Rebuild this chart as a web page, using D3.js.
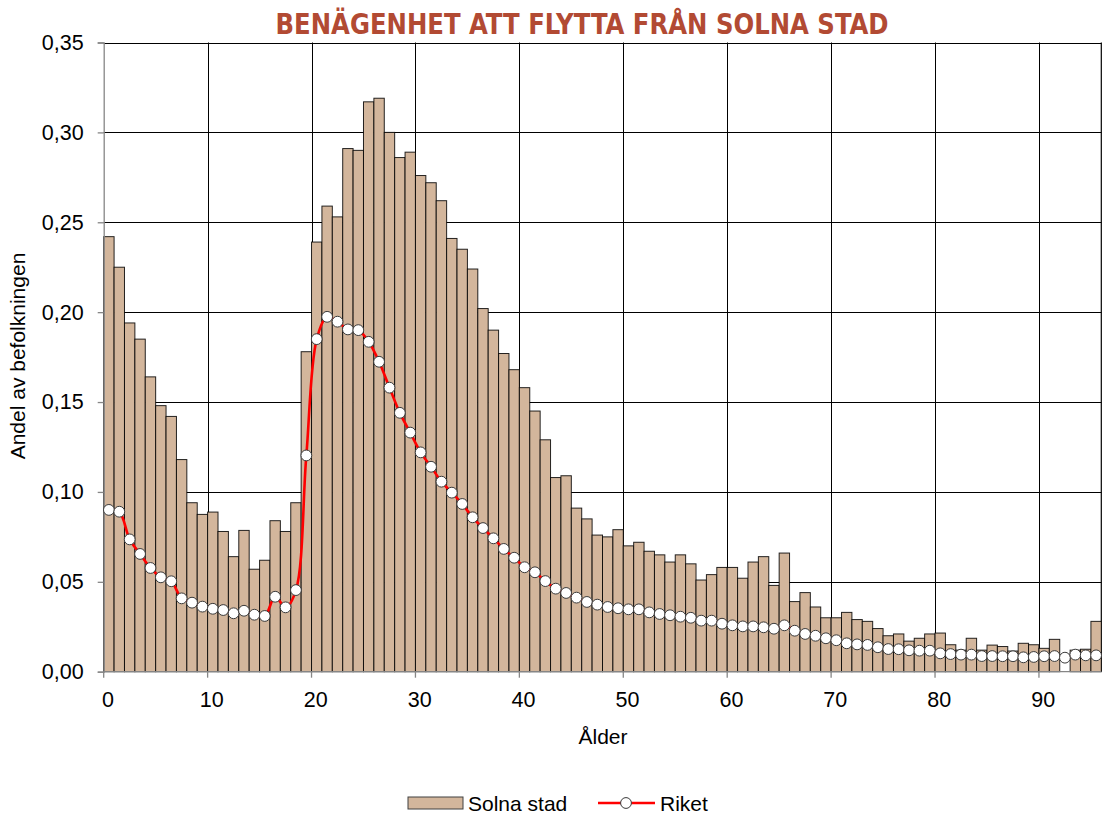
<!DOCTYPE html>
<html>
<head>
<meta charset="utf-8">
<script src="https://cdn.jsdelivr.net/npm/d3@7"></script>
<style>
  body { margin: 0; background: #fff; }
  svg { display: block; }
</style>
</head>
<body>
<svg id="chart" width="1105" height="816"></svg>
<script>
const title = "BENÄGENHET ATT FLYTTA FRÅN SOLNA STAD";
const yTitle = "Andel av befolkningen";
const xTitle = "Ålder";
const seriesNames = ["Solna stad", "Riket"];

const ages = d3.range(0, 96);

const solna = [
  0.242, 0.225, 0.194, 0.185, 0.164, 0.148, 0.142, 0.118, 0.094, 0.0875,
  0.0888, 0.078, 0.064, 0.0786, 0.057, 0.062, 0.084, 0.078, 0.094, 0.178,
  0.239, 0.259, 0.253, 0.291, 0.290, 0.317, 0.319, 0.300, 0.286, 0.289,
  0.276, 0.272, 0.262, 0.241, 0.235, 0.224, 0.202, 0.190, 0.177, 0.168,
  0.158, 0.145, 0.129, 0.108, 0.109, 0.091, 0.085, 0.076, 0.075, 0.079,
  0.070, 0.072, 0.067, 0.065, 0.061, 0.065, 0.060, 0.051, 0.054, 0.058,
  0.058, 0.052, 0.061, 0.064, 0.048, 0.066, 0.039, 0.044, 0.036, 0.030,
  0.030, 0.033, 0.029, 0.028, 0.024, 0.020, 0.021, 0.017, 0.0186, 0.021,
  0.0215, 0.015, 0.012, 0.0186, 0.012, 0.0148, 0.014, 0.0115, 0.0158, 0.015,
  0.013, 0.018, 0.0, 0.012, 0.0125, 0.028
];

const riket = [
  0.090, 0.089, 0.0736, 0.0655, 0.0577, 0.0525, 0.0503, 0.0408, 0.0384, 0.0362,
  0.035, 0.0343, 0.0325, 0.0339, 0.0317, 0.031, 0.0417, 0.0358, 0.0454, 0.1203,
  0.185, 0.1974, 0.1947, 0.1904, 0.190, 0.1835, 0.1724, 0.158, 0.144, 0.133,
  0.122, 0.114, 0.1057, 0.0996, 0.0933, 0.0859, 0.0799, 0.0742, 0.0683, 0.0634,
  0.0581, 0.0553, 0.0504, 0.0462, 0.0438, 0.0412, 0.0388, 0.0373, 0.036, 0.0353,
  0.0347, 0.0347, 0.033, 0.0321, 0.0314, 0.0306, 0.030, 0.0284, 0.0284, 0.0267,
  0.0258, 0.0252, 0.0252, 0.0247, 0.0239, 0.0258, 0.0228, 0.021, 0.020, 0.0186,
  0.0175, 0.0158, 0.0152, 0.0149, 0.0136, 0.0126, 0.0125, 0.0119, 0.0117, 0.0117,
  0.0102, 0.0098, 0.0095, 0.0095, 0.0087, 0.0087, 0.0086, 0.0086, 0.008, 0.0082,
  0.0086, 0.0087, 0.0078, 0.0095, 0.0091, 0.0091
];

const yTicks = [0, 0.05, 0.10, 0.15, 0.20, 0.25, 0.30, 0.35];
const xTickLabels = [0, 10, 20, 30, 40, 50, 60, 70, 80, 90];

const svg = d3.select("#chart");
const pLeft = 103.7, pRight = 1101.3, pTop = 42.5, pBottom = 671.7;

const x = d3.scaleBand().domain(ages).range([pLeft, pRight]).padding(0);
const y = d3.scaleLinear().domain([0, 0.35]).range([pBottom, pTop]);
const fmt = d3.format(".2f");
const comma = v => fmt(v).replace(".", ",");

const fontMain = "'Liberation Sans', Arial, sans-serif";

// horizontal gridlines
svg.append("g").selectAll("line").data(yTicks.filter(d => d > 0)).join("line")
  .attr("x1", pLeft).attr("x2", pRight)
  .attr("y1", d => Math.round(y(d)) + 0.5).attr("y2", d => Math.round(y(d)) + 0.5)
  .attr("stroke", "#000").attr("stroke-width", 1);

// vertical gridlines
svg.append("g").selectAll("line").data(xTickLabels.filter(d => d > 0)).join("line")
  .attr("x1", d => Math.round(x(d)) + 0.5).attr("x2", d => Math.round(x(d)) + 0.5)
  .attr("y1", pTop).attr("y2", pBottom)
  .attr("stroke", "#000").attr("stroke-width", 1);

// right border
svg.append("line")
  .attr("x1", pRight).attr("x2", pRight).attr("y1", pTop).attr("y2", pBottom)
  .attr("stroke", "#000").attr("stroke-width", 1.2);

// bars
svg.append("g").selectAll("rect").data(ages).join("rect")
  .attr("x", d => x(d))
  .attr("width", x.bandwidth())
  .attr("y", (d, i) => y(solna[i]))
  .attr("height", (d, i) => pBottom - y(solna[i]))
  .attr("fill", "#D3B69C")
  .attr("stroke", "#000")
  .attr("stroke-width", 1)
  .attr("stroke-opacity", (d, i) => solna[i] > 0 ? 0.85 : 0);

// axes
const yAxis = d3.axisLeft(y).tickValues(yTicks).tickSize(6).tickPadding(14).tickFormat(comma);
const gy = svg.append("g").attr("transform", `translate(${pLeft},0)`).call(yAxis);
gy.select(".domain").attr("stroke", "#868686").attr("stroke-width", 1.3);
gy.selectAll(".tick line").attr("stroke", "#868686").attr("stroke-width", 1.3);
gy.selectAll(".tick text").attr("font-family", fontMain).attr("font-size", 21.5).attr("fill", "#000");

// x axis line
svg.append("line").attr("x1", pLeft).attr("x2", pRight).attr("y1", pBottom).attr("y2", pBottom)
  .attr("stroke", "#868686").attr("stroke-width", 1.3);
svg.append("g").selectAll("line").data(xTickLabels).join("line")
  .attr("x1", d => x(d)).attr("x2", d => x(d))
  .attr("y1", pBottom).attr("y2", pBottom + 6)
  .attr("stroke", "#868686").attr("stroke-width", 1.3);
svg.append("g").selectAll("text").data(xTickLabels).join("text")
  .attr("x", d => x(d) + x.bandwidth() / 2 - 1)
  .attr("y", 707)
  .attr("text-anchor", "middle")
  .attr("font-family", fontMain).attr("font-size", 21.5).attr("fill", "#000")
  .text(d => d);

// line
const line = d3.line()
  .x((d, i) => x(ages[i]) + x.bandwidth() / 2)
  .y(d => y(d))
  .curve(d3.curveCatmullRom.alpha(0.5));
svg.append("path").datum(riket)
  .attr("d", line).attr("fill", "none").attr("stroke", "#FF0000").attr("stroke-width", 2.6);

svg.append("g").selectAll("circle").data(riket).join("circle")
  .attr("cx", (d, i) => x(ages[i]) + x.bandwidth() / 2)
  .attr("cy", d => y(d))
  .attr("r", 5.4)
  .attr("fill", "#fff").attr("stroke", "#3a3a3a").attr("stroke-width", 1);

// titles
svg.append("text")
  .attr("x", 582).attr("y", 34)
  .attr("text-anchor", "middle")
  .attr("font-family", "'Liberation Sans Narrow', 'DejaVu Sans Condensed', 'Liberation Sans', sans-serif")
  .attr("font-weight", "bold").attr("font-size", 29)
  .attr("fill", "#B24A33")
  .attr("textLength", 613).attr("lengthAdjust", "spacingAndGlyphs")
  .text(title);

svg.append("text")
  .attr("transform", "translate(25,356) rotate(-90)")
  .attr("text-anchor", "middle")
  .attr("font-family", fontMain).attr("font-size", 21).attr("fill", "#000")
  .text(yTitle);

svg.append("text")
  .attr("x", 603).attr("y", 744)
  .attr("text-anchor", "middle")
  .attr("font-family", fontMain).attr("font-size", 21).attr("fill", "#000")
  .text(xTitle);

// legend
const lg = svg.append("g");
lg.append("rect").attr("x", 408).attr("y", 797).attr("width", 55).attr("height", 12)
  .attr("fill", "#D3B69C").attr("stroke", "#404040").attr("stroke-width", 1);
lg.append("text").attr("x", 468).attr("y", 811)
  .attr("font-family", fontMain).attr("font-size", 21).attr("fill", "#000").text(seriesNames[0]);
lg.append("line").attr("x1", 598).attr("x2", 655).attr("y1", 803).attr("y2", 803)
  .attr("stroke", "#FF0000").attr("stroke-width", 2.6);
lg.append("circle").attr("cx", 626).attr("cy", 803).attr("r", 5.4)
  .attr("fill", "#fff").attr("stroke", "#3a3a3a").attr("stroke-width", 1);
lg.append("text").attr("x", 660).attr("y", 811)
  .attr("font-family", fontMain).attr("font-size", 21).attr("fill", "#000").text(seriesNames[1]);
</script>
</body>
</html>
